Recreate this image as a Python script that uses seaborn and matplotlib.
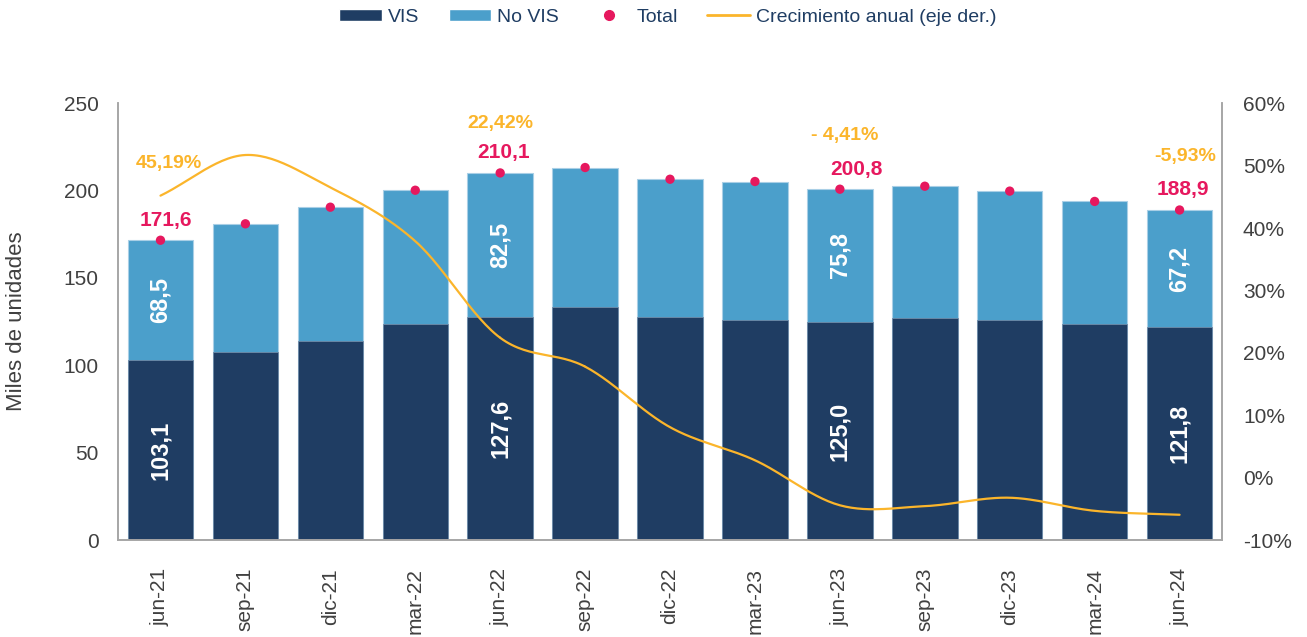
import numpy as np
import matplotlib.pyplot as plt
import seaborn as sns
from matplotlib.lines import Line2D
from matplotlib.patches import Patch
from matplotlib.ticker import FuncFormatter


periodos = ["jun-21", "sep-21", "dic-21", "mar-22", "jun-22", "sep-22", "dic-22",
            "mar-23", "jun-23", "sep-23", "dic-23", "mar-24", "jun-24"]
vis = [103.1, 107.6, 113.8, 123.6, 127.6, 133.3, 127.6, 125.9, 125.0, 127.2, 126.2, 123.6, 121.8]
no_vis = [68.5, 73.4, 76.7, 76.6, 82.5, 79.9, 78.9, 79.3, 75.8, 75.3, 73.5, 70.2, 67.2]
total = [171.6, 181.0, 190.5, 200.2, 210.1, 213.2, 206.5, 205.2, 200.8, 202.5, 199.7, 193.8, 188.9]
crecimiento = [45.19, 51.7, 46.5, 37.9, 22.42, 17.8, 8.1, 2.8, -4.41, -4.55, -3.2, -5.3, -5.93]

# labelled periods (index -> text of growth label)
etiquetas_crec = {0: "45,19%", 4: "22,42%", 8: "- 4,41%", 12: "-5,93%"}

C_VIS = "#1F3D63"
C_NOVIS = "#4B9FCB"
C_TOTAL = "#E6185E"
C_CREC = "#FBB52B"
C_TXT = "#404040"


def coma(v, dec=1):
    return f"{v:.{dec}f}".replace(".", ",")


# smooth curve through the points (like Excel "smoothed line")
def suavizar(y, n=30):
    y = np.asarray(y, dtype=float)
    x = np.arange(len(y), dtype=float)
    px = np.concatenate([[2 * x[0] - x[1]], x, [2 * x[-1] - x[-2]]])
    py = np.concatenate([[2 * y[0] - y[1]], y, [2 * y[-1] - y[-2]]])
    xs, ys = [], []
    t = np.linspace(0, 1, n)
    for i in range(1, len(px) - 2):
        for p, out in ((px, xs), (py, ys)):
            p0, p1, p2, p3 = p[i - 1], p[i], p[i + 1], p[i + 2]
            out.extend(0.5 * (2 * p1 + (-p0 + p2) * t + (2 * p0 - 5 * p1 + 4 * p2 - p3) * t ** 2
                              + (-p0 + 3 * p1 - 3 * p2 + p3) * t ** 3))
    return np.array(xs), np.array(ys)


sns.set_style("white")
plt.rcParams['font.family'] = ['Liberation Sans', 'DejaVu Sans']

fig = plt.figure(figsize=(13.07, 6.37), dpi=100)
ax = fig.add_axes([0.0903, 0.152, 0.8447, 0.686])

pos = np.arange(len(periodos))
apilado = [v + n for v, n in zip(vis, no_vis)]

sns.barplot(x=pos, y=apilado, color=C_NOVIS, saturation=1, width=0.77,
            edgecolor="#A9CFE6", linewidth=0.8, ax=ax, native_scale=True)
sns.barplot(x=pos, y=vis, color=C_VIS, saturation=1, width=0.77,
            edgecolor="#6F8BA8", linewidth=0.6, ax=ax, native_scale=True)
sns.scatterplot(x=pos, y=total, color=C_TOTAL, s=45, edgecolor="none", ax=ax, zorder=5)

ax.set_xlim(-0.5, len(periodos) - 0.5)
ax.set_ylim(0, 250)
ax.set_yticks(range(0, 251, 50))
ax.set_xticks(pos)
ax.set_xticklabels(periodos, rotation=90)
ax.tick_params(axis="x", length=0, pad=20, labelsize=15, labelcolor=C_TXT)
ax.tick_params(axis="y", length=0, pad=14, labelsize=15, labelcolor=C_TXT)
ax.set_ylabel("Miles de unidades", fontsize=16, color=C_TXT)
ax.yaxis.set_label_coords(-0.082, 0.5)
ax.set_xlabel("")

# growth line, right axis
ax2 = ax.twinx()
xs, ys = suavizar(crecimiento)
ax2.plot(xs, ys, color=C_CREC, linewidth=1.6)
ax2.set_ylim(-10, 60)
ax2.set_yticks(range(-10, 61, 10))
ax2.yaxis.set_major_formatter(FuncFormatter(lambda v, _: f"{v:.0f}%"))
ax2.tick_params(axis="y", length=0, pad=15, labelsize=15, labelcolor=C_TXT)

for a in (ax, ax2):
    for lado, sp in a.spines.items():
        sp.set_visible(lado in ("left", "bottom", "right"))
        sp.set_color("#A6A6A6")
        sp.set_linewidth(1.2)

# labels for the June periods
desp_total = {0: 5, 4: 3, 8: 17, 12: 3}
desp_crec = {0: (8, 77), 4: (0, 49), 8: (5, 54), 12: (6, 53)}
for i, txt in etiquetas_crec.items():
    ax.text(i, vis[i] / 2, coma(vis[i]), rotation=90, ha="center", va="center",
            color="white", fontsize=17, fontweight="bold")
    ax.text(i, vis[i] + no_vis[i] / 2, coma(no_vis[i]), rotation=90, ha="center",
            va="center", color="white", fontsize=17, fontweight="bold")
    ax.annotate(coma(total[i]), (i, total[i]), xytext=(desp_total[i], 20),
                textcoords="offset pixels", ha="center", va="center",
                color=C_TOTAL, fontsize=15, fontweight="bold")
    dx, dy = desp_crec[i]
    ax.annotate(txt, (i, total[i]), xytext=(dx, dy), textcoords="offset pixels",
                ha="center", va="center", color=C_CREC, fontsize=14, fontweight="bold")

handles = [
    Patch(facecolor=C_VIS, label="VIS"),
    Patch(facecolor=C_NOVIS, label="No VIS"),
    Line2D([], [], marker="o", linestyle="none", color=C_TOTAL, markersize=7, label="Total"),
    Line2D([], [], color=C_CREC, linewidth=2, label="Crecimiento anual (eje der.)"),
]
leg = fig.legend(handles=handles, loc="center", bbox_to_anchor=(0.511, 0.973), ncol=4,
                 frameon=False, fontsize=14, handlelength=2.2, handleheight=0.6,
                 handletextpad=0.3, columnspacing=1.5)
for t in leg.get_texts():
    t.set_color(C_VIS)

fig.savefig("out.png", dpi=100)
